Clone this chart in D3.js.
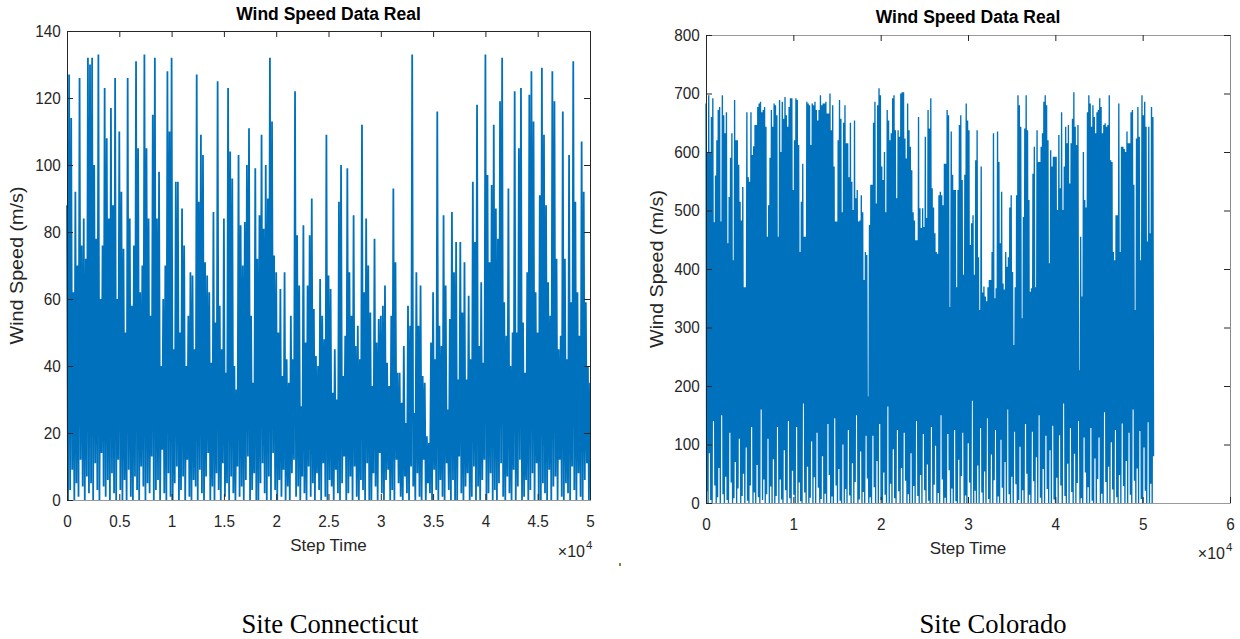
<!DOCTYPE html>
<html><head><meta charset="utf-8">
<script src="https://cdn.jsdelivr.net/npm/d3@7"></script>
<style>html,body{margin:0;padding:0;background:#fff;} svg{display:block;}</style>
</head><body>
<svg id="chart" width="1240" height="639"></svg>
<script>
// ---------------- Site Connecticut (left) ----------------
const ctStep = 100;            // step-time interval between samples
const ctPeaks = [
  88,127,114,62,92,70,126,76,84,72,
  132,130,132,100,78,133,60,76,123,108,
  84,117,88,126,60,110,92,75,50,126,
  84,58,76,131,105,62,70,133,105,84,
  55,115,132,84,98,40,60,70,128,110,
  132,45,95,95,50,87,76,40,55,68,
  67,45,127,
  89,109,103,71,67,62,41,86,53,125,
  58,45,84,38,123,104,96,40,33,103,
  82,70,83,100,111,55,35,99,72,85,
  109,81,100,90,132,113,73,68,50,63,
  37,68,42,35,55,42,122,79,64,28,
  82,47,64,79,90,57,43,40,66,55,
  48,109,67,
  63,32,45,30,89,100,37,49,99,68,
  55,85,46,52,42,112,62,84,70,56,
  34,78,47,54,55,58,64,41,34,55,
  93,71,38,38,29,46,23,58,52,133,
  26,68,52,64,37,35,19,17,47,62,
  42,116,52,46,85,64,27,54,86,68,
  77,36,77,
  56,71,36,61,42,95,77,118,46,65,
  41,133,97,71,94,112,87,78,119,132,
  59,49,93,40,50,122,50,105,123,53,
  38,68,121,128,113,62,50,91,129,109,
  88,65,55,128,119,72,45,49,116,72,
  42,103,59,131,89,62,49,107,92,59,
  40
];
const ctLows = [
  0,3,9,0,5,1,12,4,0,7,
  2,5,0,11,3,0,14,4,1,6,
  0,8,2,0,12,3,0,6,0,9,
  1,0,7,3,0,10,4,0,5,2,
  13,0,3,6,0,15,2,0,8,1,
  0,5,10,0,3,7,0,12,1,0,
  6,4,0,9,2,0,7,14,0,4,
  0,8,3,0,11,1,5,0,7,2,
  0,10,1,4,0,6,13,0,3,8,
  0,0,5,11,2,0,7,0,14,3,
  0,6,1,9,0,4,0,8,12,1,
  4,0,7,2,0,10,1,5,0,8,
  3,0,11,1,0,6,4,0,9,2,
  0,5,13,0,2,7,0,10,1,0,
  6,3,0,11,0,0,8,4,0,14,
  2,0,6,9,0,3,0,12,5,1,
  0,7,2,0,10,4,0,8,1,0,
  12,0,5,2,0,9,3,0,6,1,
  0,11,3,0,6,0,0,13,2,0,
  4,8,0,1,10,0,4,0,6,12,
  0,2,8,0,3,0,5,11,1,0,
  7,2,0,9,0,4,12,0,1,6,
  0,3,8,0,11,0,0,5,2,0,
  9,0,4,7,0,12,1,0,5,2,
  0,10,3,0,8,1,0,6,11,0
];
const ctLast = 35;
const ctXTicks = [0,5000,10000,15000,20000,25000,30000,35000,40000,45000,50000];
const ctXLabels = ["0","0.5","1","1.5","2","2.5","3","3.5","4","4.5","5"];
const ctYTicks = [0,20,40,60,80,100,120,140];
const ctYLabels = ["0","20","40","60","80","100","120","140"];

// ---------------- Site Colorado (right) ----------------
const coStep = 78;
const coPeaks = [
  683,600,697,600,660,692,480,560,620,672,677,481,697,663,632,668,444,523,590,632,
  415,689,620,620,578,515,483,540,369,369,668,557,549,668,595,610,646,646,677,683,
  686,668,672,677,643,455,509,590,672,643,683,680,663,455,689,600,686,657,694,663,
  643,677,692,692,535,620,692,689,612,429,515,580,455,455,686,683,680,612,
  683,680,686,672,654,672,697,680,683,683,686,666,666,700,637,680,575,481,481,620,
  689,657,497,650,680,615,615,557,650,549,501,654,521,535,481,483,526,497,381,429,
  424,182,475,544,544,650,686,512,680,709,697,575,552,600,497,672,654,620,632,692,
  697,637,521,637,626,700,702,702,623,589,683,637,609,569,497,483,449,449,660,504,470,
  504,472,626,487,672,640,692,538,505,461,429,426,526,532,526,509,580,580,672,663,
  335,635,561,535,535,369,535,646,663,552,390,561,683,654,637,441,478,492,390,586,
  637,420,330,575,360,370,353,345,369,381,381,429,632,350,367,635,583,444,532,375,
  365,429,404,420,505,526,395,270,369,526,697,680,643,316,489,640,697,637,518,361,
  367,563,609,369,637,583,
  583,609,632,686,697,680,620,410,603,575,592,592,592,501,629,538,668,501,575,643,
  615,646,546,615,657,702,643,612,646,227,455,353,600,518,505,668,697,683,643,680,
  660,632,668,672,692,677,632,646,649,643,646,697,586,583,429,415,492,492,683,429,
  609,609,605,600,635,615,615,668,672,544,330,623,677,626,415,697,663,686,643,447,
  643,461,677,660
];
const coLows = [
  20,0,85,5,0,140,30,0,10,60,0,150,15,0,45,5,0,120,35,0,8,70,0,25,110,0,12,50,0,95,4,0,30,130,0,18,0,65,10,0,160,5,40,0,15,110,0,28,0,75,
  0,12,130,0,40,6,0,90,22,0,140,8,0,55,14,0,130,0,35,3,0,170,18,0,62,0,9,105,0,44,0,120,26,0,7,80,0,16,0,135,48,0,11,0,145,30,0,58,4,0,
  100,0,24,0,125,13,0,68,0,36,150,0,6,88,0,19,0,115,42,0,10,0,115,27,0,72,0,135,5,0,52,14,0,165,0,33,0,92,8,0,125,20,0,60,0,120,38,0,15,0,
  85,0,29,0,140,12,0,48,0,118,22,0,66,4,0,130,0,31,98,0,17,0,150,40,0,9,0,118,56,0,25,0,125,3,0,74,0,46,120,0,13,0,102,35,0,175,0,21,0,64,
  0,128,18,0,54,0,145,7,0,83,0,39,125,0,11,0,108,26,0,70,0,160,15,0,45,0,122,32,0,5,96,0,22,0,135,50,0,14,0,122,37,0,78,0,150,9,0,58,0,115,
  24,0,90,0,132,6,0,43,0,116,30,0,170,12,0,67,0,128,19,0,84,0,34,140,0,8,0,112,52,0,27,0,128,4,0,76,0,41,112,0,16,0,155,36,0,62,0,104,23,0,
  125,10,0,48,0,136,29,0,72,0,120,14,0,160,38,0,59,0,123,7,0,95,21,0,138,0,33,0,80
];
const coXTicks = [0,10000,20000,30000,40000,50000,60000];
const coXLabels = ["0","1","2","3","4","5","6"];
const coYTicks = [0,100,200,300,400,500,600,700,800];
const coYLabels = ["0","100","200","300","400","500","600","700","800"];

const titleText = "Wind Speed Data Real";
const xLabelText = "Step Time";
const yLabelText = "Wind Speed (m/s)";
const siteNames = ["Site Connecticut", "Site Colorado"];

// ---------------- drawing ----------------
const svg = d3.select("#chart");
const SANS = "'Liberation Sans', Arial, Helvetica, sans-serif";
const SERIF = "'Liberation Serif', 'Times New Roman', serif";
const INK = "#262626";

function buildSeries(peaks, lows, step, last) {
  const s = [];
  peaks.forEach((p, k) => {
    s.push([2 * k * step, p]);
    if (k < lows.length) s.push([(2 * k + 1) * step, lows[k]]);
  });
  if (last != null) s.push([2 * peaks.length * step, last]);
  return s;
}

function panel(o) {
  const g = svg.append("g");
  const [xl, xr] = o.x.range();
  const [yb, yt] = o.y.range();

  g.append("path")
    .datum(o.series)
    .attr("d", d3.line().x(d => o.x(d[0])).y(d => o.y(d[1])))
    .attr("fill", "none")
    .attr("stroke", "#0072BD")
    .attr("stroke-width", o.lineW)
    .attr("stroke-linejoin", "bevel");

  const styleAxis = (sel, domainColor) => {
    sel.attr("font-size", null).attr("font-family", null);
    sel.select(".domain").attr("stroke", domainColor).attr("stroke-width", 1);
    sel.selectAll(".tick line").attr("stroke", INK).attr("stroke-width", 1);
    sel.selectAll(".tick text")
      .attr("fill", INK)
      .style("font-family", SANS)
      .style("font-size", "17px")
      .attr("transform", "scale(0.9,1)");
  };

  g.append("g").attr("transform", `translate(0,${yt})`)
    .call(d3.axisTop(o.x).tickValues(o.xTicks).tickFormat("").tickSizeInner(-6).tickSizeOuter(0))
    .call(s => styleAxis(s, o.topColor));
  g.append("g").attr("transform", `translate(${xr},0)`)
    .call(d3.axisRight(o.y).tickValues(o.yTicks).tickFormat("").tickSizeInner(-6).tickSizeOuter(0))
    .call(s => styleAxis(s, o.rightColor));
  g.append("g").attr("transform", `translate(0,${yb})`)
    .call(d3.axisBottom(o.x).tickValues(o.xTicks).tickFormat((d, i) => o.xLabels[i]).tickSizeInner(-6).tickSizeOuter(0).tickPadding(15))
    .call(s => styleAxis(s, "#9a9a9a"));
  g.append("g").attr("transform", `translate(${xl},0)`)
    .call(d3.axisLeft(o.y).tickValues(o.yTicks).tickFormat((d, i) => o.yLabels[i]).tickSizeInner(-6).tickSizeOuter(0).tickPadding(7))
    .call(s => styleAxis(s, INK));

  const cx = (xl + xr) / 2;
  g.append("text").attr("x", cx).attr("y", o.titleY).attr("text-anchor", "middle")
    .style("font-family", SANS).style("font-weight", "bold").style("font-size", "17.5px")
    .attr("fill", "#000").text(titleText);
  g.append("text").attr("x", cx).attr("y", o.xlabY).attr("text-anchor", "middle")
    .style("font-family", SANS).style("font-size", "17px").attr("fill", INK).text(xLabelText);
  g.append("text").attr("transform", `translate(${o.ylabX},${(yt + yb) / 2}) rotate(-90)`)
    .attr("text-anchor", "middle").attr("textLength", 158).attr("lengthAdjust", "spacingAndGlyphs")
    .style("font-family", SANS).style("font-size", "18px").attr("fill", INK).text(yLabelText);
  // exponent label x10^4
  g.append("text").attr("x", xr - 5).attr("y", o.expY).attr("text-anchor", "end")
    .style("font-family", SANS).style("font-size", "16px").attr("fill", INK).text("\u00d710");
  g.append("text").attr("x", xr - 4).attr("y", o.expY - 8).attr("text-anchor", "start")
    .style("font-family", SANS).style("font-size", "11.5px").attr("fill", INK).text("4");
  // site caption
  g.append("text").attr("x", o.siteX).attr("y", 633).attr("text-anchor", "middle")
    .attr("textLength", o.siteW).attr("lengthAdjust", "spacingAndGlyphs")
    .style("font-family", SERIF).style("font-size", "27px").attr("fill", "#000").text(o.site);
}

panel({
  x: d3.scaleLinear().domain([0, 50000]).range([67, 590]),
  y: d3.scaleLinear().domain([0, 140]).range([500, 31]),
  xTicks: ctXTicks, xLabels: ctXLabels, yTicks: ctYTicks, yLabels: ctYLabels,
  series: buildSeries(ctPeaks, ctLows, ctStep, ctLast),
  lineW: 1.8,
  topColor: INK, rightColor: INK,
  titleY: 20, xlabY: 551, ylabX: 23, expY: 557,
  site: siteNames[0], siteX: 330, siteW: 177
});

panel({
  x: d3.scaleLinear().domain([0, 60000]).range([706, 1230]),
  y: d3.scaleLinear().domain([0, 800]).range([503, 35]),
  xTicks: coXTicks, xLabels: coXLabels, yTicks: coYTicks, yLabels: coYLabels,
  series: buildSeries(coPeaks, coLows, coStep, null),
  lineW: 1.35,
  topColor: "#9a9a9a", rightColor: "#8a8a8a",
  titleY: 23, xlabY: 554, ylabX: 663, expY: 559,
  site: siteNames[1], siteX: 993, siteW: 147
});

// small scan speck between the panels
svg.append("rect").attr("x", 619).attr("y", 563).attr("width", 2).attr("height", 3).attr("fill", "#7d8a3c");
</script>
</body></html>
